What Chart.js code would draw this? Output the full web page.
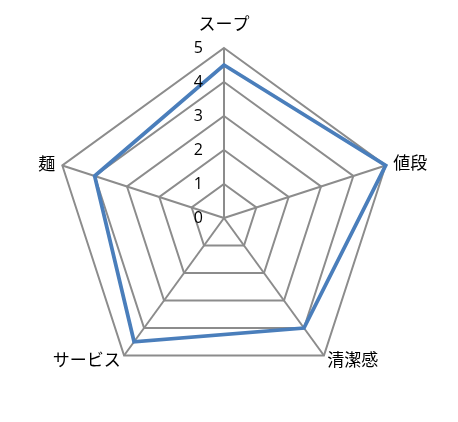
<!DOCTYPE html>
<html>
<head>
<meta charset="utf-8">
<script src="https://cdn.jsdelivr.net/npm/chart.js@4.4.1/dist/chart.umd.min.js"></script>
<style>
  html, body { margin: 0; padding: 0; background: #fff; }
  #wrap { width: 458px; height: 422px; }
</style>
</head>
<body>
<div id="wrap"><canvas id="radar"></canvas></div>
<script>
var categories = ['スープ', '値段', '清潔感', 'サービス', '麺']
var scores = [4.5, 5, 4, 4.5, 4]
var tickLabels = ['0', '1', '2', '3', '4', '5']

var gridGray = '#8c8c8c'
var lineBlue = '#4a7ebb'

// excel style labels: ticks left of the vertical axis, names around the outside
var labelPlugin = {
  id: 'excelLabels',
  afterDraw: function (chart) {
    var scale = chart.scales.r
    var ctx = chart.ctx
    ctx.save()

    // tick numbers, including 0 at the centre
    ctx.font = '16px "Open Sans", "Liberation Sans", sans-serif'
    ctx.fillStyle = '#000'
    ctx.textAlign = 'right'
    ctx.textBaseline = 'middle'
    scale.ticks.forEach(function (tick) {
      var dist = scale.getDistanceFromCenterForValue(tick.value)
      ctx.fillText(tickLabels[tick.value], scale.xCenter - 21, scale.yCenter - dist)
    })

    // category names
    var pads = [24, 8, 5.5, 5.5, 7.5]
    var aligns = ['center', 'left', 'left', 'right', 'right']
    ctx.font = '17px "Noto Sans CJK JP", sans-serif'
    for (var i = 0; i < categories.length; i++) {
      var pos = scale.getPointPosition(i, scale.drawingArea + pads[i])
      ctx.textAlign = aligns[i]
      ctx.fillText(categories[i], pos.x, pos.y)
    }
    ctx.restore()
  }
}

var ctx = document.getElementById('radar').getContext('2d')
new Chart(ctx, {
  type: 'radar',
  data: {
    labels: categories,
    datasets: [{
      data: scores,
      borderColor: lineBlue,
      borderWidth: 3.75,
      backgroundColor: 'rgba(0,0,0,0)',
      fill: false,
      pointRadius: 0,
      pointHoverRadius: 0,
      tension: 0
    }]
  },
  options: {
    responsive: true,
    maintainAspectRatio: false,
    animation: false,
    layout: {
      padding: { left: 53.5, right: 63.5, top: 47.5, bottom: 33.5 }
    },
    plugins: {
      legend: { display: false },
      tooltip: { enabled: false }
    },
    scales: {
      r: {
        min: 0,
        max: 5,
        ticks: { stepSize: 1, display: false },
        grid: { color: gridGray, lineWidth: 2 },
        angleLines: { color: gridGray, lineWidth: 2 },
        pointLabels: { display: false }
      }
    }
  },
  plugins: [labelPlugin]
})
</script>
</body>
</html>
